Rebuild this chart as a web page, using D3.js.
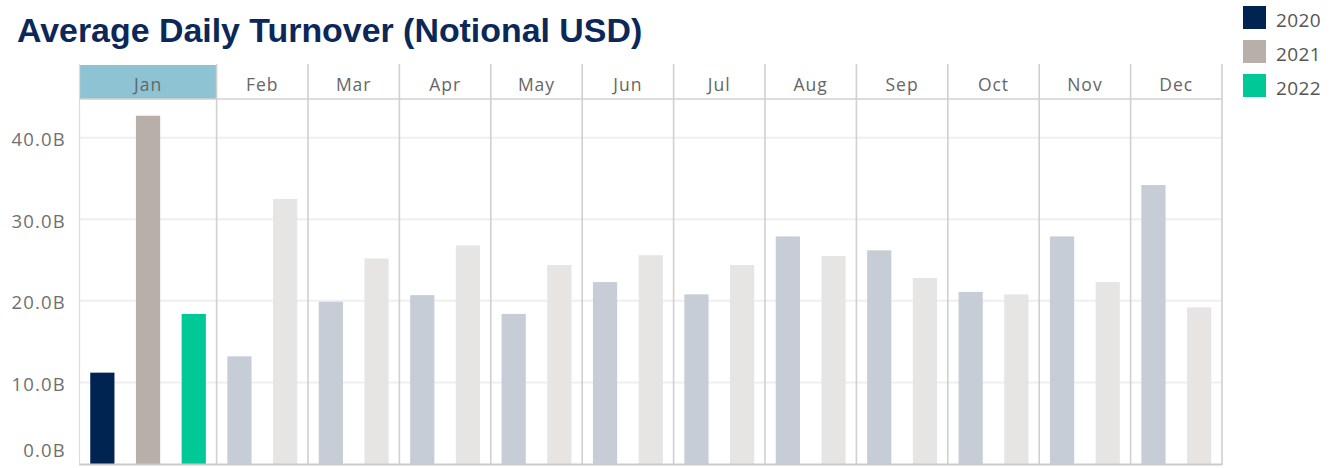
<!DOCTYPE html>
<html>
<head>
<meta charset="utf-8">
<script src="https://cdn.jsdelivr.net/npm/d3@7"></script>
<style>
  html, body { margin: 0; padding: 0; background: #fff; }
  svg { display: block; }
</style>
</head>
<body>
<svg id="chart" width="1335" height="468"></svg>
<script>
// ---- data (billions USD) ----
const months = ["Jan","Feb","Mar","Apr","May","Jun","Jul","Aug","Sep","Oct","Nov","Dec"];
const years = ["2020","2021","2022"];
const values2020 = [11.2, 13.2, 19.9, 20.7, 18.4, 22.3, 20.8, 27.9, 26.2, 21.1, 27.9, 34.2];
const values2021 = [42.7, 32.5, 25.2, 26.8, 24.4, 25.6, 24.4, 25.5, 22.8, 20.8, 22.3, 19.2];
const values2022 = [18.4, null, null, null, null, null, null, null, null, null, null, null];
const yTicks = [0, 10, 20, 30, 40];
const selectedMonth = "Jan";

const colors = { "2020": "#002452", "2021": "#b8afa9", "2022": "#00c997" };
const faded  = { "2020": "#c6cdd7", "2021": "#e6e5e3", "2022": "#b3ecdc" };

const seriesByYear = { "2020": values2020, "2021": values2021, "2022": values2022 };

// build slots: one per (month, year) with data
const slots = [];
months.forEach((m, i) => {
  years.forEach(y => {
    const v = seriesByYear[y][i];
    if (v !== null && v !== undefined) slots.push({ month: m, year: y, value: v, key: m + "-" + y });
  });
});

const svg = d3.select("#chart");
const left = 79.5, right = 1222, headTop = 64, headBottom = 99, bottom = 464;

const x = d3.scaleBand().domain(slots.map(d => d.key)).range([left, right])
  .paddingInner(0.47).paddingOuter(0.235);
const step = x.step();
const y = d3.scaleLinear().domain([0, 44.75]).range([bottom, headBottom]);

// month extents
const monthExt = months.map(m => {
  const ks = slots.filter(s => s.month === m);
  const x0 = x(ks[0].key) - (step - x.bandwidth()) / 2;
  const x1 = x(ks[ks.length - 1].key) + x.bandwidth() + (step - x.bandwidth()) / 2;
  return { month: m, x0, x1 };
});

// title
svg.append("text")
  .attr("x", 17).attr("y", 42)
  .attr("font-family", "'Liberation Sans', Arial, sans-serif")
  .attr("font-weight", "bold")
  .attr("font-size", 33.9)
  .attr("fill", "#0b2859")
  .text("Average Daily Turnover (Notional USD)");

// header highlight
const sel = monthExt.find(d => d.month === selectedMonth);
svg.append("rect")
  .attr("x", sel.x0).attr("y", headTop + 1)
  .attr("width", sel.x1 - sel.x0).attr("height", headBottom - headTop - 1)
  .attr("fill", "#8ec3d3");

// horizontal gridlines
svg.append("g").selectAll("line").data(yTicks.filter(t => t > 0)).join("line")
  .attr("x1", left).attr("x2", right)
  .attr("y1", d => y(d)).attr("y2", d => y(d))
  .attr("stroke", "#efefef").attr("stroke-width", 2);

// bars
svg.append("g").selectAll("rect").data(slots).join("rect")
  .attr("x", d => x(d.key))
  .attr("y", d => y(d.value))
  .attr("width", x.bandwidth())
  .attr("height", d => y(0) - y(d.value))
  .attr("fill", d => d.month === selectedMonth ? colors[d.year] : faded[d.year]);

// vertical dividers (month boundaries)
const divXs = monthExt.slice(1).map(d => d.x0).concat([right]);
svg.append("g").selectAll("line").data(divXs).join("line")
  .attr("x1", d => d).attr("x2", d => d)
  .attr("y1", headTop).attr("y2", bottom + 1)
  .attr("stroke", "#d0d0d0").attr("stroke-width", 1.6);

// left axis line
svg.append("line").attr("x1", left).attr("x2", left).attr("y1", headTop).attr("y2", bottom + 1)
  .attr("stroke", "#dcdcdc").attr("stroke-width", 1.2);
// header bottom line
svg.append("line").attr("x1", left).attr("x2", right).attr("y1", headBottom).attr("y2", headBottom)
  .attr("stroke", "#d0d0d0").attr("stroke-width", 1.4);
// baseline
svg.append("line").attr("x1", left).attr("x2", right).attr("y1", bottom + 0.5).attr("y2", bottom + 0.5)
  .attr("stroke", "#cccccc").attr("stroke-width", 2);

// month labels
svg.append("g").selectAll("text").data(monthExt).join("text")
  .attr("x", d => (d.x0 + d.x1) / 2).attr("y", 90.5)
  .attr("text-anchor", "middle")
  .attr("font-family", "'Open Sans', sans-serif")
  .attr("font-size", 17.5)
  .attr("letter-spacing", 1)
  .attr("fill", "#666")
  .text(d => d.month);

// y axis labels
svg.append("g").selectAll("text").data(yTicks).join("text")
  .attr("x", 66)
  .attr("y", d => d === 0 ? 457 : y(d) + 8.5)
  .attr("text-anchor", "end")
  .attr("font-family", "'Open Sans', sans-serif")
  .attr("font-size", 18.5)
  .attr("letter-spacing", 1.2)
  .attr("fill", "#707070")
  .text(d => d3.format(".1f")(d) + "B");

// legend
const lg = svg.append("g").selectAll("g").data(years).join("g")
  .attr("transform", (d, i) => `translate(1243, ${6 + i * 34})`);
lg.append("rect").attr("width", 23).attr("height", 23).attr("fill", d => colors[d]);
lg.append("text").attr("x", 33).attr("y", 20.7)
  .attr("font-family", "'Open Sans', sans-serif")
  .attr("font-size", 19)
  .attr("letter-spacing", 0.4)
  .attr("fill", "#555")
  .text(d => d);
</script>
</body>
</html>
